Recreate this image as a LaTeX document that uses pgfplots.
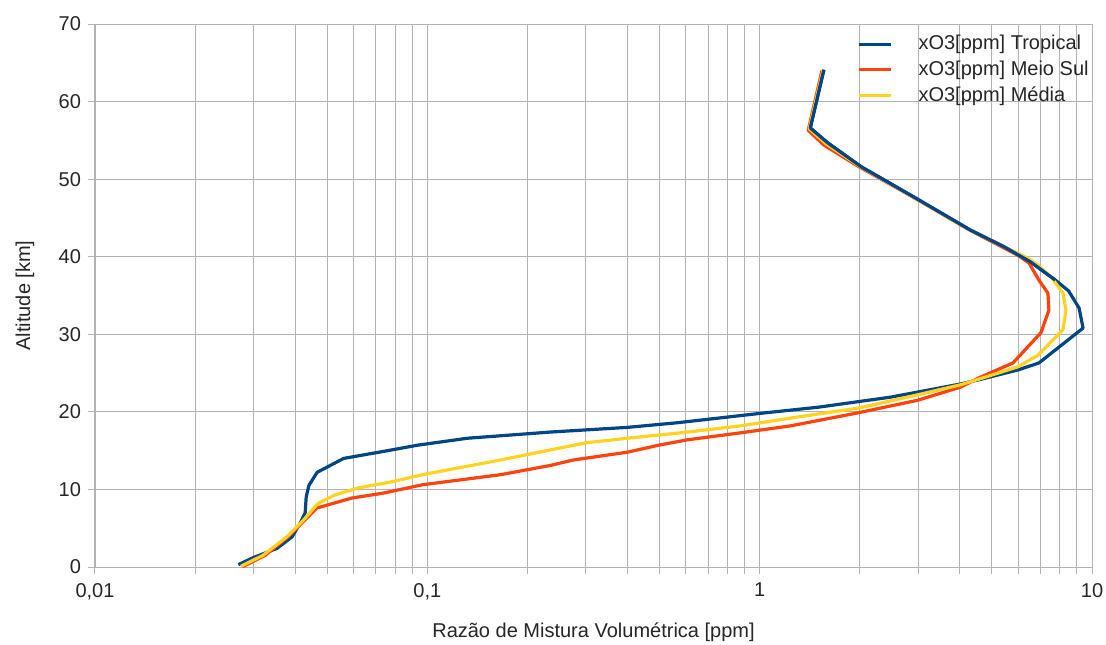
\documentclass[border=0pt]{standalone}
\usepackage{pgfplots}
\pgfplotsset{compat=1.18}
\usepackage{fontspec}
\setmainfont{Liberation Sans}

\definecolor{trop}{HTML}{004586}
\definecolor{msul}{HTML}{FF420E}
\definecolor{media}{HTML}{FFD320}
\definecolor{gridc}{HTML}{B3B3B3}

\begin{document}
\begin{tikzpicture}
\useasboundingbox (-47.5pt,-38.5pt) rectangle (505.5pt,283.5pt);
\begin{axis}[
    scale only axis,
    width=498.5pt,
    height=271.5pt,
    xmode=log,
    xmin=0.01, xmax=10,
    ymin=0, ymax=70,
    xtick={0.01,0.1,1,10},
    xticklabels={{0,01},{0,1},1,10},
    minor xtick={0.02,0.03,0.04,0.05,0.06,0.07,0.08,0.09,
                 0.2,0.3,0.4,0.5,0.6,0.7,0.8,0.9,
                 2,3,4,5,6,7,8,9},
    ytick={0,10,...,70},
    grid=both,
    major grid style={gridc, line width=0.5pt},
    minor grid style={gridc, line width=0.5pt},
    axis line style={gridc},
    tick style={gridc, line width=0.5pt},
    tick align=outside,
    major tick length=3.5pt,
    minor tick length=3.5pt,
    xtick pos=bottom,
    ytick pos=left,
    /pgf/number format/assume math mode=true,
    tick label style={font=\fontsize{10}{12}\selectfont, text=black!85},
    xticklabel style={yshift=-1pt},
    label style={font=\fontsize{10}{12}\selectfont, text=black!85},
    xlabel={Razão de Mistura Volumétrica [ppm]},
    ylabel={Altitude [km]},
    xlabel style={at={(axis description cs:0.5,-0.1197)}, anchor=center},
    ylabel style={at={(axis description cs:-0.0702,0.5)}, anchor=center},
    legend cell align=left,
    legend style={at={(axis description cs:1,1)}, anchor=north east,
        draw=none, fill=none, font=\fontsize{10}{12}\selectfont,
        text=black!85, row sep=0pt, xshift=3.5pt, yshift=-1.5pt},
    legend image code/.code={\draw[#1,line width=1.6pt] (0pt,0pt) -- (16pt,0pt); \path (27pt,0pt);},
    every axis plot/.append style={line width=1.6pt, line join=round},
]
\addplot[trop] coordinates {
(0.0270,0.3) (0.0299,1.2) (0.0353,2.4) (0.0392,3.9) (0.0415,5.7)
(0.0429,7.0) (0.0432,9.0) (0.0440,10.5) (0.0466,12.2) (0.0560,14.0)
(0.0760,15.0) (0.0933,15.7) (0.132,16.6) (0.235,17.4) (0.400,18.0)
(0.566,18.6) (1.00,19.8) (1.50,20.6) (2.48,21.9) (4.03,23.6)
(4.63,24.2) (5.98,25.4) (6.92,26.3) (9.40,30.8) (9.14,33.4)
(8.50,35.6) (7.75,37.0) (6.55,39.3) (5.43,41.3) (4.32,43.4)
(2.91,47.7) (2.02,51.6) (1.60,54.7) (1.42,56.6) (1.56,64.1)
};
\addlegendentry{xO3[ppm] Tropical}
\addplot[msul] coordinates {
(0.0277,0.0) (0.0325,1.5) (0.0381,3.9) (0.0429,6.1) (0.0465,7.6)
(0.0594,8.9) (0.0732,9.5) (0.0966,10.6) (0.166,11.9) (0.235,13.1)
(0.275,13.8) (0.400,14.8) (0.496,15.7) (0.607,16.4) (0.877,17.3)
(1.24,18.2) (1.99,19.9) (2.99,21.5) (4.03,23.2) (4.63,24.5)
(5.78,26.3) (7.02,30.2) (7.42,33.1) (7.37,35.3) (6.92,37.0)
(6.46,39.2) (5.98,40.2) (4.30,43.4) (2.89,47.7) (1.99,51.6)
(1.56,54.4) (1.40,56.3) (1.54,64.0)
};
\addlegendentry{xO3[ppm] Meio Sul}
\addplot[media] coordinates {
(0.0275,0.1) (0.0320,1.5) (0.0378,3.9) (0.0425,6.1) (0.0469,8.2)
(0.0528,9.3) (0.0620,10.2) (0.0785,11.0) (0.0966,11.9) (0.166,13.8)
(0.235,15.1) (0.299,16.0) (0.400,16.6) (0.607,17.4) (0.877,18.2)
(1.24,19.2) (1.99,20.5) (2.99,22.2) (4.03,23.5) (4.63,24.3)
(5.98,25.8) (6.88,27.3) (8.18,30.6) (8.35,33.1) (8.18,35.3)
(7.53,37.4) (6.88,38.9) (6.42,39.8) (4.31,43.4) (2.90,47.7)
(2.01,51.6) (1.58,54.6) (1.41,56.5) (1.55,64.0)
};
\addlegendentry{xO3[ppm] Média}
% tropical profile drawn again on top where the three profiles merge
\addplot[trop, forget plot] coordinates {
(7.75,37.0) (6.55,39.3) (5.43,41.3) (4.32,43.4)
(2.91,47.7) (2.02,51.6) (1.60,54.7) (1.42,56.6) (1.56,64.1)
};
\end{axis}
\end{tikzpicture}
\end{document}
